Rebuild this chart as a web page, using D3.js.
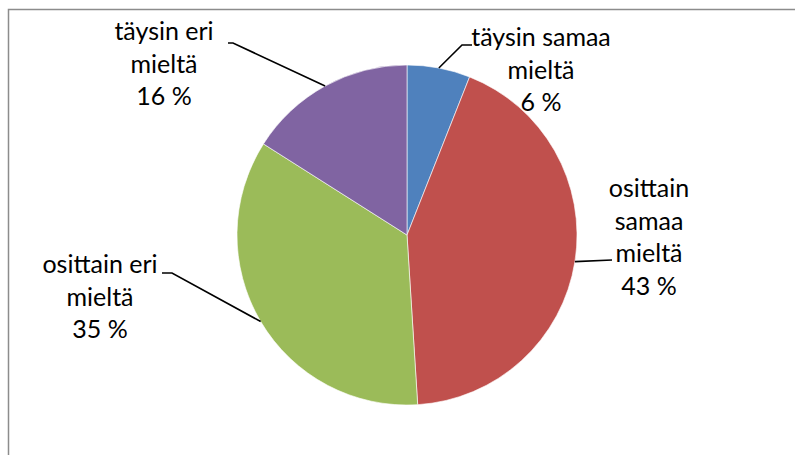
<!DOCTYPE html>
<html>
<head>
<meta charset="utf-8">
<script src="https://cdn.jsdelivr.net/npm/d3@7"></script>
<style>
  body { margin: 0; background: #fff; }
  svg { display: block; }
  text { font-family: Lato, "Noto Sans", sans-serif; font-size: 25px; fill: #000; }
</style>
</head>
<body>
<svg id="chart" width="795" height="455"></svg>
<script>
// data
const categories = ["täysin samaa mieltä", "osittain samaa mieltä", "osittain eri mieltä", "täysin eri mieltä"];
const values = [6, 43, 35, 16];
const labelLines = [
    ["täysin samaa", "mieltä", "6 %"],
    ["osittain", "samaa", "mieltä", "43 %"],
    ["osittain eri", "mieltä", "35 %"],
    ["täysin eri", "mieltä", "16 %"]
];
const colors = ["#4F81BD", "#C0504D", "#9BBB59", "#8064A2"];

// label layout: text centre x, first line baseline y, leader elbow points
const labelLayout = [
    { x: 541, y: 46, path: [[462, 45], [472, 45]] },
    { x: 649, y: 197, path: [[612, 260]] },
    { x: 100, y: 273, path: [[172, 273], [162, 273]] },
    { x: 164, y: 40, path: [[233, 43], [228, 43]] }
];

const svg = d3.select("#chart");
const cx = 407, cy = 235, r = 170;
const lineH = 32.5;

// frame (clipped at right/bottom like the original)
svg.append("rect")
    .attr("x", 8.5).attr("y", 9.5)
    .attr("width", 820).attr("height", 480)
    .attr("fill", "none")
    .attr("stroke", "#8c8c8c")
    .attr("stroke-width", 1.5);

const pie = d3.pie().sort(null).value(d => d)(values);
const arc = d3.arc().innerRadius(0).outerRadius(r);

const g = svg.append("g").attr("transform", `translate(${cx},${cy})`);

g.selectAll("path")
    .data(pie)
    .enter().append("path")
    .attr("d", arc)
    .attr("fill", (d, i) => colors[i])
    .attr("stroke", "#fff")
    .attr("stroke-width", 0.6);

// leader lines
pie.forEach((d, i) => {
    const a = (d.startAngle + d.endAngle) / 2;
    const start = [cx + r * Math.sin(a), cy - r * Math.cos(a)];
    const pts = [start].concat(labelLayout[i].path);
    svg.append("path")
        .attr("d", d3.line()(pts))
        .attr("fill", "none")
        .attr("stroke", "#000")
        .attr("stroke-width", 1.6);
});

// labels
labelLines.forEach((lines, i) => {
    const t = svg.append("text")
        .attr("text-anchor", "middle");
    lines.forEach((s, j) => {
        t.append("tspan")
            .attr("x", labelLayout[i].x)
            .attr("y", labelLayout[i].y + j * lineH)
            .text(s);
    });
});
</script>
</body>
</html>
